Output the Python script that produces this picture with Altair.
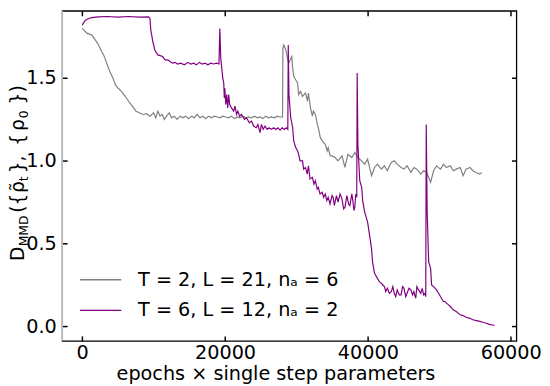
import altair as alt
import pandas as pd

series_labels = ["T = 2, L = 21, nₐ = 6", "T = 6, L = 12, nₐ = 2"]
series_colors = ["#808080", "#800080"]

gray_x = [0, 700, 1340, 2000, 2300, 2720, 3000, 3270, 3600, 3960,
          4300, 4650, 5000, 5500, 6030, 6500, 6860, 7200, 7540, 8000,
          8500, 9000, 9500, 10000, 10300, 10600, 10900, 11200, 11500, 11800,
          12200, 12500, 12900, 13300, 13700, 14100, 14500, 14900, 15300, 15700,
          16100, 16500, 16900, 17300, 17700, 18100, 18500, 18900, 19300, 19700,
          20100, 20500, 20900, 21300, 21700, 22100, 22500, 22900, 23300, 23700,
          24100, 24500, 24900, 25300, 25700, 26100, 26500, 26900, 27300, 27700,
          28050, 28100, 28230, 28510, 28790, 28920, 29340, 29470, 29610, 29890,
          30160, 30300, 30570, 30850, 31270, 31540, 31680, 31960, 32230, 32370,
          32650, 32920, 33060, 33340, 33610, 34030, 34300, 34440, 34720, 34990,
          35410, 35820, 36370, 36790, 37200, 37750, 38170, 38580, 39130, 39550,
          39960, 40510, 40930, 41340, 41890, 42310, 42720, 43270, 43680, 44100,
          44650, 45060, 45480, 46030, 46440, 46860, 47410, 47820, 48240, 48780,
          49200, 49610, 50160, 50580, 50990, 51540, 51950, 52370, 52920, 53330,
          53740, 54290, 54710, 55120, 55680, 55950]
gray_y = [1.80, 1.77, 1.76, 1.72, 1.70, 1.66, 1.64, 1.61, 1.57, 1.53,
          1.50, 1.46, 1.44, 1.42, 1.39, 1.36, 1.34, 1.32, 1.30, 1.29,
          1.28, 1.285, 1.27, 1.29, 1.26, 1.30, 1.27, 1.28, 1.25, 1.27,
          1.29, 1.26, 1.27, 1.25, 1.27, 1.26, 1.27, 1.255, 1.27, 1.26,
          1.28, 1.26, 1.27, 1.255, 1.27, 1.26, 1.27, 1.265, 1.26, 1.27,
          1.265, 1.26, 1.27, 1.255, 1.265, 1.26, 1.27, 1.26, 1.265, 1.26,
          1.27, 1.26, 1.265, 1.255, 1.27, 1.26, 1.265, 1.26, 1.27, 1.265,
          1.265, 1.68, 1.70, 1.67, 1.61, 1.59, 1.63, 1.56, 1.51, 1.49,
          1.47, 1.40, 1.42, 1.39, 1.41, 1.36, 1.41, 1.32, 1.27, 1.30,
          1.28, 1.22, 1.20, 1.14, 1.12, 1.10, 1.06, 1.08, 1.03, 1.03,
          1.02, 1.00, 1.03, 0.96, 1.04, 1.02, 1.05, 1.02, 1.00, 0.98,
          1.01, 0.91, 0.96, 0.98, 0.95, 0.97, 0.94, 0.99, 1.00, 0.98,
          0.96, 0.95, 0.97, 0.93, 0.96, 0.95, 0.92, 0.94, 0.93, 0.87,
          0.94, 0.97, 0.95, 0.98, 0.96, 0.97, 0.94, 0.95, 0.96, 0.91,
          0.95, 0.96, 0.94, 0.93, 0.92, 0.93]

purple_x = [0, 450, 920, 1340, 2300, 3500, 5000, 6500, 8000, 9300,
            9480, 9610, 9890, 10170, 10580, 11270, 11600, 11960, 12300, 12650,
            13000, 13340, 13800, 14310, 14800, 15200, 15600, 16000, 16400, 16800,
            17200, 17600, 18000, 18400, 18800, 19150, 19270, 19400, 19540, 19680,
            19820, 19900, 19960, 20100, 20230, 20370, 20510, 20650, 20900, 21200,
            21400, 21610, 21800, 22030, 22300, 22720, 23000, 23410, 23700, 24000,
            24370, 24600, 24900, 25100, 25340, 25600, 25900, 26170, 26500, 26800,
            27130, 27400, 27700, 28000, 28300, 28600, 28790, 28850, 28950, 29200,
            29470, 29610, 29890, 30160, 30300, 30500, 30850, 31000, 31270, 31500,
            31680, 31900, 32230, 32450, 32650, 32900, 33060, 33300, 33610, 33800,
            34030, 34250, 34440, 34700, 34990, 35130, 35300, 35600, 35820, 36100,
            36370, 36600, 36790, 37060, 37300, 37480, 37750, 37890, 38050, 38170,
            38300, 38440, 38500, 38600, 38860, 39130, 39270, 39550, 39960, 40240,
            40510, 40650, 40930, 41340, 41600, 41890, 42100, 42310, 42500, 42720,
            43000, 43270, 43500, 43680, 43900, 44100, 44400, 44650, 44850, 45060,
            45300, 45480, 45750, 46030, 46250, 46440, 46700, 46860, 47100, 47410,
            47600, 47820, 48000, 48100, 48170, 48300, 48510, 48780, 48920, 49200,
            49610, 49900, 50160, 50580, 50800, 50990, 51300, 51540, 51950, 52370,
            52650, 52920, 53330, 53740, 54200, 54710, 55200, 55680, 56100, 56500,
            57000, 57460, 57740]
purple_y = [1.82, 1.85, 1.86, 1.865, 1.87, 1.872, 1.868, 1.872, 1.868, 1.87,
            1.86, 1.79, 1.72, 1.67, 1.64, 1.63, 1.61, 1.61, 1.60, 1.59,
            1.595, 1.585, 1.59, 1.58, 1.595, 1.585, 1.59, 1.58, 1.595, 1.585,
            1.59, 1.58, 1.59, 1.585, 1.59, 1.585, 1.80, 1.62, 1.56, 1.50,
            1.47, 1.38, 1.44, 1.34, 1.40, 1.32, 1.40, 1.34, 1.32, 1.30,
            1.33, 1.28, 1.30, 1.27, 1.28, 1.25, 1.26, 1.23, 1.24, 1.21,
            1.20, 1.22, 1.17, 1.22, 1.19, 1.21, 1.19, 1.20, 1.19, 1.20,
            1.19, 1.20, 1.185, 1.20, 1.19, 1.20, 1.19, 1.70, 1.40, 1.26,
            1.20, 1.12, 1.08, 1.06, 1.04, 1.00, 1.00, 0.95, 0.96, 0.92,
            0.97, 0.89, 0.90, 0.86, 0.88, 0.83, 0.84, 0.80, 0.81, 0.78,
            0.80, 0.76, 0.78, 0.74, 0.79, 0.78, 0.73, 0.79, 0.75, 0.80,
            0.77, 0.71, 0.72, 0.79, 0.74, 0.73, 0.80, 0.76, 0.70, 0.72,
            0.80, 0.78, 1.53, 1.10, 0.88, 0.84, 0.76, 0.69, 0.63, 0.55,
            0.47, 0.39, 0.32, 0.29, 0.27, 0.26, 0.25, 0.24, 0.21, 0.23,
            0.20, 0.21, 0.24, 0.20, 0.18, 0.22, 0.19, 0.19, 0.24, 0.23,
            0.18, 0.20, 0.23, 0.22, 0.19, 0.21, 0.17, 0.24, 0.22, 0.20,
            0.23, 0.19, 0.20, 0.18, 1.22, 0.69, 0.39, 0.35, 0.25, 0.24,
            0.22, 0.20, 0.18, 0.15, 0.15, 0.14, 0.13, 0.12, 0.10, 0.09,
            0.08, 0.07, 0.065, 0.055, 0.05, 0.04, 0.035, 0.03, 0.025, 0.02,
            0.012, 0.008, 0.005]

x_ticks = [0, 20000, 40000, 60000]
y_ticks = [0.0, 0.5, 1.0, 1.5]
x_domain = [-2800, 60790]
y_domain = [-0.0875, 1.9065]

x_title = "epochs × single step parameters"
# y title pieces: (text, position along axis, font size, baseline x)
y_title_parts = [
    ("D", 254, 19, -39),
    ("MMD", 239, 12.5, -35),
    ("({", 205, 19, -39),
    ("ρ̃", 185, 19, -39),
    ("t", 173, 12.5, -35),
    ("},", 165, 19, -39),
    ("{", 137, 19, -39),
    ("ρ", 122, 19, -39),
    ("0", 109, 12.5, -35),
    ("})", 95, 19, -39),
]

FONT = "DejaVu Sans"
FS = 19.5
W, H = 461, 335

frames = []
for lab, xs_, ys_ in [(series_labels[0], gray_x, gray_y), (series_labels[1], purple_x, purple_y)]:
    frames.append(pd.DataFrame({"x": xs_, "y": ys_, "series": lab, "order": range(len(xs_))}))
df = pd.concat(frames, ignore_index=True)

xs = alt.Scale(domain=x_domain, nice=False, zero=False)
ys = alt.Scale(domain=y_domain, nice=False, zero=False)

ax = dict(domain=False, grid=False, ticks=True, tickSize=5, tickWidth=1.5,
          tickColor="black", offset=-5, labelFont=FONT, labelFontSize=FS,
          labelColor="black", title=None)

lines = alt.Chart(df).mark_line(strokeWidth=1.2).encode(
    x=alt.X("x:Q", scale=xs, axis=alt.Axis(orient="bottom", values=x_ticks, format="d",
                                           labelPadding=3, **ax)),
    y=alt.Y("y:Q", scale=ys, axis=alt.Axis(orient="left", values=y_ticks, format=".1f",
                                           labelPadding=6, **ax)),
    color=alt.Color("series:N", scale=alt.Scale(domain=series_labels, range=series_colors),
                    legend=None),
    order="order:Q",
)

ghost = alt.Chart(df).mark_line(opacity=0).encode(
    x=alt.X("x:Q", scale=xs, axis=alt.Axis(orient="top", values=x_ticks, labels=False, **ax)),
    y=alt.Y("y:Q", scale=ys, axis=alt.Axis(orient="right", values=y_ticks, labels=False, **ax)),
    detail="series:N",
)

one = pd.DataFrame({"a": [0]})
left_spine = alt.Chart(one).mark_rule(color="#c8c8c8", strokeWidth=1.5).encode(
    x=alt.value(0), y=alt.value(0), y2=alt.value(H))

layers = [lines, ghost, left_spine]

# legend
leg_rows = [273, 304]
for lab, col, yy in zip(series_labels, series_colors, leg_rows):
    d = pd.DataFrame({"label": [lab]})
    layers.append(alt.Chart(d).mark_rule(color=col, strokeWidth=1.3).encode(
        x=alt.value(18), x2=alt.value(60), y=alt.value(yy)))
    layers.append(alt.Chart(d).mark_text(align="left", baseline="middle", font=FONT,
                                         fontSize=FS, color="black").encode(
        x=alt.value(77), y=alt.value(yy), text="label:N"))

# x title
layers.append(alt.Chart(pd.DataFrame({"t": [x_title]})).mark_text(
    align="center", baseline="alphabetic", font=FONT, fontSize=FS, color="black").encode(
    x=alt.value(217), y=alt.value(375), text="t:N"))

# y title pieces
for txt, pos, size, xb in y_title_parts:
    layers.append(alt.Chart(pd.DataFrame({"t": [txt]})).mark_text(
        angle=270, align="left", baseline="alphabetic", font=FONT, fontSize=size,
        color="black").encode(x=alt.value(xb), y=alt.value(pos), text="t:N"))

chart = alt.layer(*layers).resolve_axis(x="independent", y="independent").properties(
    width=W, height=H,
    padding={"left": 55, "top": 0, "right": 26, "bottom": 43},
    autosize=alt.AutoSizeParams(type="none"),
).configure_view(stroke="black", strokeWidth=1.3)

chart.save("out.html", embed_options={"renderer": "svg", "actions": False})
